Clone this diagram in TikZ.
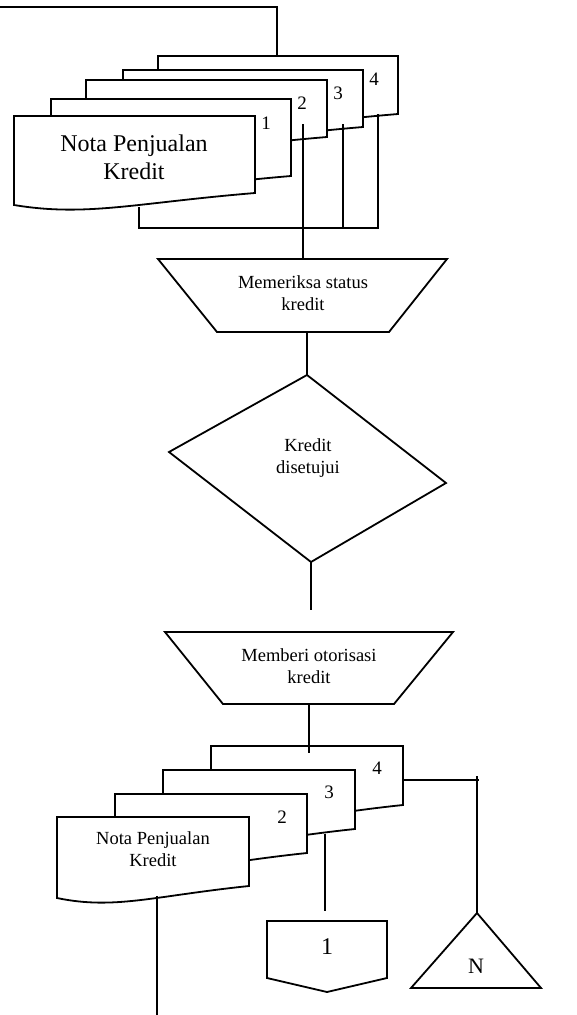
\documentclass[tikz,border=0pt]{standalone}
\usepackage{fontspec}
\setmainfont{Liberation Serif}
% document symbol: left, top, right, bottom-right y; wavy bottom edge
\newcommand\docshape[4]{%
  \path[symbol] (#1,#2) -- (#3,#2) -- (#3,#4)
    .. controls ({(#1+#3)/2},{#4+10}) and ({#1+0.3*(#3-#1)},{#4+24}) ..
    (#1,{#4+12}) -- cycle;}
\begin{document}
\begin{tikzpicture}[x=1pt, y=-1pt, line width=1.8pt, line join=miter,
  symbol/.style={draw, fill=white},
  wire/.style={draw},
  txt/.style={align=center, inner sep=0pt, font=\fontsize{18.5}{22}\selectfont},
  bigtxt/.style={align=center, inner sep=0pt, font=\fontsize{24}{28}\selectfont},
  num/.style={inner sep=0pt, font=\fontsize{19}{22}\selectfont}]
\useasboundingbox (0,0) rectangle (577,1015);

% ---------- upper stack of copies ----------
\docshape{158}{56}{398}{114}
\docshape{123}{70}{363}{127}
\docshape{86}{80}{327}{137}
\docshape{51}{99}{291}{176}
\docshape{14}{116}{255}{193}
\node[bigtxt] (notaA) at (134,157) {Nota Penjualan\\Kredit};
\node[num] (a1) at (266,123) {1};
\node[num] (a2) at (302,103) {2};
\node[num] (a3) at (338,93) {3};
\node[num] (a4) at (374,79) {4};

% ---------- check credit status ----------
\path[symbol] (158,259) -- (447,259) -- (389,332) -- (217,332) -- cycle;
\node[txt] (cek) at (303,293) {Memeriksa status\\kredit};

% ---------- decision ----------
\path[symbol] (307,375) -- (446,483) -- (311,562) -- (169,452) -- cycle;
\node[txt] (setuju) at (308,458) {Kredit\\disetujui};

% ---------- authorise credit ----------
\path[symbol] (165,632) -- (453,632) -- (394,704) -- (223,704) -- cycle;
\node[txt] (otor) at (309,666) {Memberi otorisasi\\kredit};

% ---------- lower stack of copies ----------
\docshape{211}{746}{403}{805}
\docshape{163}{770}{355}{829}
\docshape{115}{794}{307}{853}
\docshape{57}{817}{249}{886}
\node[txt] (notaB) at (153,849) {Nota Penjualan\\Kredit};
\node[num] (b2) at (282,817) {2};
\node[num] (b3) at (329,792) {3};
\node[num] (b4) at (377,768) {4};

% ---------- off-page connector and file ----------
\path[symbol] (267,921) -- (387,921) -- (387,978) -- (327,992) -- (267,978) -- cycle;
\node[bigtxt] (hal1) at (327,947) {1};
\path[symbol] (477,913) -- (541,988) -- (411,988) -- cycle;
\node[inner sep=0pt, font=\fontsize{22}{26}\selectfont] (arsip) at (476,966) {N};

% ---------- attach points ----------
\coordinate (inL) at (0,7);
\coordinate (d5top) at (277,56);
\coordinate (c2) at (303,124);
\coordinate (cekT) at (303,259);
\coordinate (c1) at (139,207);
\coordinate (c3) at (343,124);
\coordinate (c4) at (378,114);
\coordinate (baseL) at (139,228);
\coordinate (baseR) at (378,228);
\coordinate (base3) at (343,228);
\coordinate (cekB) at (307,332);
\coordinate (decT) at (307,375);
\coordinate (decB) at (311,562);
\coordinate (decEnd) at (311,610);
\coordinate (otorB) at (309,704);
\coordinate (stackB) at (309,753);
\coordinate (e4) at (403,780);
\coordinate (eR) at (479,780);
\coordinate (fTop) at (477,776);
\coordinate (fApex) at (477,913);
\coordinate (e3) at (325,834);
\coordinate (hal1T) at (325,911);
\coordinate (e1) at (157,896);
\coordinate (outB) at (157,1015);

% ---------- flow lines ----------
\draw[wire] (inL) -| (d5top);
\draw[wire] (c2) -- (cekT);
\draw[wire] (c1) -- (baseL) -- (baseR) -- (c4);
\draw[wire] (c3) -- (base3);
\draw[wire] (cekB) -- (decT);
\draw[wire] (decB) -- (decEnd);
\draw[wire] (otorB) -- (stackB);
\draw[wire] (e4) -- (eR);
\draw[wire] (fTop) -- (fApex);
\draw[wire] (e3) -- (hal1T);
\draw[wire] (e1) -- (outB);
\end{tikzpicture}
\end{document}
